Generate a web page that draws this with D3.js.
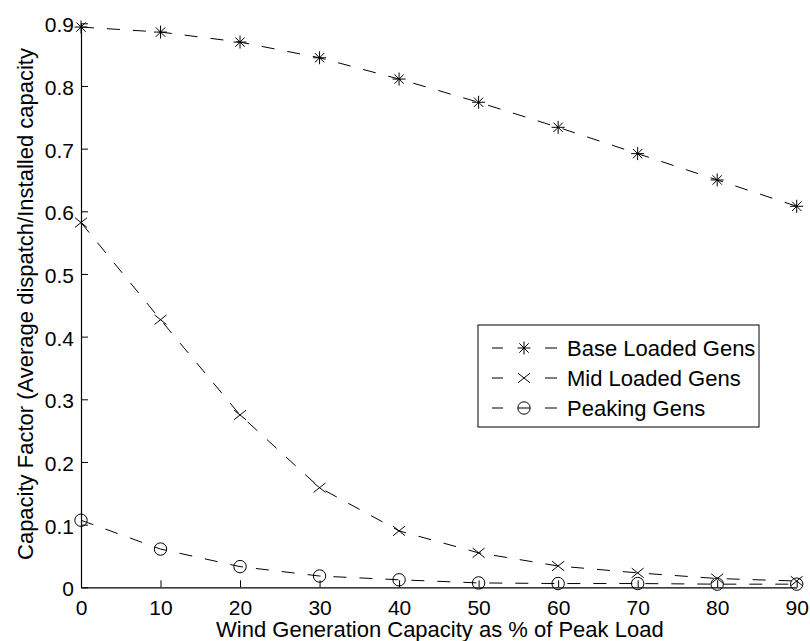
<!DOCTYPE html>
<html>
<head>
<meta charset="utf-8">
<script src="https://cdn.jsdelivr.net/npm/d3@7"></script>
<style>
  html, body { margin: 0; padding: 0; background: #fff; }
  svg { display: block; }
  text { font-family: "Liberation Sans", Arial, Helvetica, sans-serif; fill: #000; }
</style>
</head>
<body>
<svg id="chart" width="810" height="641"></svg>
<script>
// Wind penetration levels (% of peak load)
const windLevels = [0, 10, 20, 30, 40, 50, 60, 70, 80, 90];

// Capacity factor per generator class
const baseLoaded = [0.894, 0.886, 0.870, 0.845, 0.811, 0.774, 0.734, 0.692, 0.650, 0.608];
const midLoaded  = [0.582, 0.427, 0.275, 0.159, 0.090, 0.055, 0.034, 0.023, 0.014, 0.010];
const peaking    = [0.107, 0.061, 0.033, 0.018, 0.012, 0.007, 0.006, 0.006, 0.005, 0.005];

const seriesNames = ["Base Loaded Gens", "Mid Loaded Gens", "Peaking Gens"];
const seriesMarkers = ["star", "cross", "circle"];

const xTicks = [0, 10, 20, 30, 40, 50, 60, 70, 80, 90];
const yTicks = [0, 0.1, 0.2, 0.3, 0.4, 0.5, 0.6, 0.7, 0.8, 0.9];

const xTitle = "Wind Generation Capacity as % of Peak Load";
const yTitle = "Capacity Factor (Average dispatch/Installed capacity";

const svg = d3.select("#chart");
const plot = { left: 81, right: 796.7, top: 23.3, bottom: 587.3 };

const x = d3.scaleLinear().domain([0, 90]).range([plot.left, plot.right]);
const y = d3.scaleLinear().domain([0, 0.9]).range([plot.bottom, plot.top]);

const series = [baseLoaded, midLoaded, peaking].map((vals, i) => ({
  name: seriesNames[i],
  marker: seriesMarkers[i],
  points: windLevels.map((w, j) => ({ x: w, y: vals[j] }))
}));

// Marker glyph paths centred on the origin
function markerPath(type, s) {
  const p = d3.path();
  if (type === "star") {
    const d = s * 0.72;
    p.moveTo(-s, 0); p.lineTo(s, 0);
    p.moveTo(0, -s); p.lineTo(0, s);
    p.moveTo(-d, -d); p.lineTo(d, d);
    p.moveTo(-d, d); p.lineTo(d, -d);
  } else if (type === "cross") {
    p.moveTo(-s, -s * 0.8); p.lineTo(s, s * 0.8);
    p.moveTo(-s, s * 0.8); p.lineTo(s, -s * 0.8);
  } else {
    p.moveTo(s, 0); p.arc(0, 0, s, 0, 2 * Math.PI);
  }
  return p.toString();
}
const markerSize = { star: 6.5, cross: 6, circle: 6.2 };

// Axes (left and bottom only, ticks pointing inward)
const xAxis = d3.axisBottom(x).tickValues(xTicks).tickSizeInner(-7).tickSizeOuter(0).tickPadding(13)
  .tickFormat(d3.format("d"));
const yAxis = d3.axisLeft(y).tickValues(yTicks).tickSizeInner(-7).tickSizeOuter(0).tickPadding(7)
  .tickFormat(d => d === 0 ? "0" : d3.format(".1f")(d));

const gx = svg.append("g").attr("transform", `translate(0,${plot.bottom})`).call(xAxis);
const gy = svg.append("g").attr("transform", `translate(${plot.left},0)`).call(yAxis);
[gx, gy].forEach(g => {
  g.select(".domain").attr("stroke", "#000").attr("stroke-width", 1.2);
  g.selectAll(".tick line").attr("stroke", "#000").attr("stroke-width", 1);
  g.selectAll(".tick text").style("font-size", "21px").attr("fill", "#000");
});
gy.selectAll(".tick text").attr("dy", "0.4em");
gx.selectAll(".tick text").attr("dy", "0.71em");

// Series lines and markers
const line = d3.line().x(d => x(d.x)).y(d => y(d.y)).curve(d3.curveLinear);
const gSeries = svg.append("g");
series.forEach(s => {
  gSeries.append("path")
    .attr("d", line(s.points))
    .attr("fill", "none")
    .attr("stroke", "#000")
    .attr("stroke-width", 1)
    .attr("stroke-dasharray", "13,13");
  gSeries.selectAll(null)
    .data(s.points)
    .enter().append("path")
    .attr("transform", d => `translate(${x(d.x)},${y(d.y)})`)
    .attr("d", markerPath(s.marker, markerSize[s.marker]))
    .attr("fill", "none")
    .attr("stroke", "#000")
    .attr("stroke-width", 1);
});

// Axis titles
svg.append("text")
  .attr("x", (plot.left + plot.right) / 2 + 1)
  .attr("y", 637)
  .attr("text-anchor", "middle")
  .style("font-size", "22px")
  .text(xTitle);

svg.append("text")
  .attr("transform", `translate(33,${304}) rotate(-90)`)
  .attr("text-anchor", "middle")
  .style("font-size", "22px")
  .text(yTitle);

// Legend
const legend = svg.append("g").attr("transform", "translate(478,325)");
legend.append("rect")
  .attr("width", 281).attr("height", 102)
  .attr("fill", "#fff").attr("stroke", "#000").attr("stroke-width", 1);
series.forEach((s, i) => {
  const cy = 23 + i * 30;
  const row = legend.append("g").attr("transform", `translate(0,${cy})`);
  row.append("line").attr("x1", 14).attr("x2", 25).attr("y1", 0).attr("y2", 0)
    .attr("stroke", "#000").attr("stroke-width", 1);
  row.append("line").attr("x1", 67).attr("x2", 79).attr("y1", 0).attr("y2", 0)
    .attr("stroke", "#000").attr("stroke-width", 1);
  row.append("path")
    .attr("transform", "translate(46,0)")
    .attr("d", markerPath(s.marker, markerSize[s.marker]))
    .attr("fill", "none").attr("stroke", "#000").attr("stroke-width", 1);
  if (s.marker === "circle") {
    row.append("line").attr("x1", 40).attr("x2", 52).attr("y1", 0).attr("y2", 0)
      .attr("stroke", "#000").attr("stroke-width", 1);
  }
  row.append("text")
    .attr("x", 89).attr("y", 0).attr("dy", "0.36em")
    .style("font-size", "22px")
    .text(s.name);
});
</script>
</body>
</html>
